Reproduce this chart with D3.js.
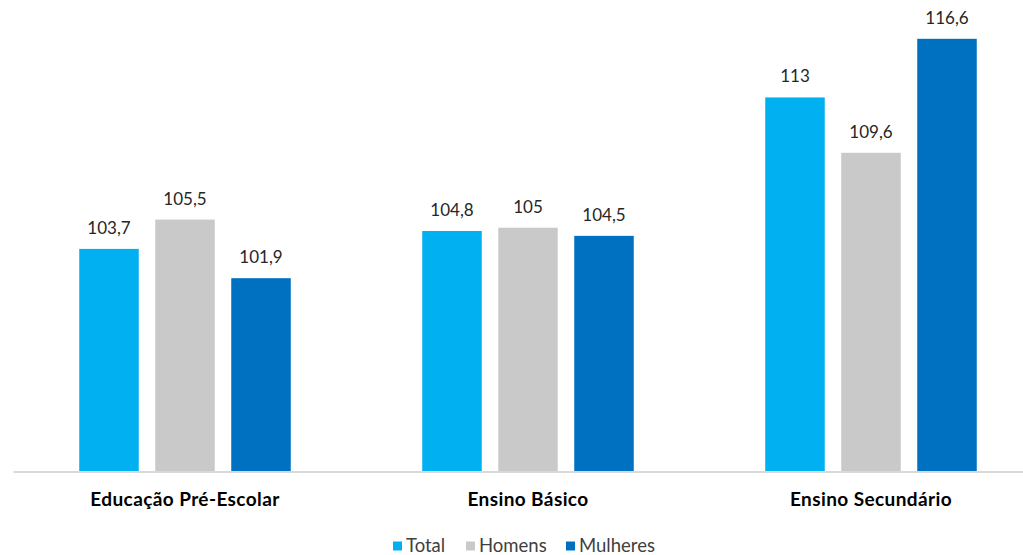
<!DOCTYPE html>
<html>
<head>
<meta charset="utf-8">
<script src="https://cdn.jsdelivr.net/npm/d3@7"></script>
<style>
  html, body { margin: 0; padding: 0; background: #fff; }
  svg { display: block; }
  text { font-family: "Century Gothic", "Lato", "Open Sans", sans-serif; }
</style>
</head>
<body>
<svg id="chart" width="1023" height="555"></svg>
<script>
// Education levels (categories) and the three series
const categories = ["Educação Pré-Escolar", "Ensino Básico", "Ensino Secundário"];
const seriesNames = ["Total", "Homens", "Mulheres"];
const totalValues = [103.7, 104.8, 113];
const homensValues = [105.5, 105, 109.6];
const mulheresValues = [101.9, 104.5, 116.6];
const seriesColors = ["#00B0F0", "#C9C9C9", "#0070C0"];

const seriesValues = [totalValues, homensValues, mulheresValues];
const rows = categories.map((c, i) => ({
  category: c,
  values: seriesNames.map((s, j) => ({ series: s, value: seriesValues[j][i] }))
}));

const svg = d3.select("#chart");
const fmt = v => String(v).replace(".", ",");

const plot = { left: 13.5, right: 1042.5, top: 16, bottom: 472 };

const x0 = d3.scaleBand()
  .domain(categories)
  .range([plot.left, plot.right])
  .paddingInner(0)
  .paddingOuter(0);

const x1 = d3.scaleBand()
  .domain(seriesNames)
  .range([0, x0.bandwidth()])
  .paddingInner(0.217)
  .paddingOuter(0.865);

const y = d3.scaleLinear()
  .domain([90, 118])
  .range([plot.bottom, plot.top]);

const color = d3.scaleOrdinal().domain(seriesNames).range(seriesColors);

const groups = svg.append("g")
  .selectAll("g")
  .data(rows)
  .join("g")
  .attr("transform", d => `translate(${x0(d.category)},0)`);

groups.selectAll("rect")
  .data(d => d.values)
  .join("rect")
  .attr("x", d => x1(d.series))
  .attr("y", d => y(d.value))
  .attr("width", x1.bandwidth())
  .attr("height", d => y(90) - y(d.value))
  .attr("fill", d => color(d.series));

groups.selectAll("text.val")
  .data(d => d.values)
  .join("text")
  .attr("class", "val")
  .attr("x", d => x1(d.series) + x1.bandwidth() / 2)
  .attr("y", d => y(d.value) - 15)
  .attr("text-anchor", "middle")
  .attr("font-size", 17)
  .attr("fill", "#262626")
  .text(d => fmt(d.value));

// Category axis along the baseline
const xAxis = svg.append("g")
  .attr("transform", `translate(0,${plot.bottom})`)
  .call(d3.axisBottom(x0).tickSize(0).tickPadding(0));
xAxis.select(".domain")
  .attr("d", `M${plot.left},0H1023`)
  .attr("stroke", "#D9D9D9")
  .attr("stroke-width", 2);
xAxis.selectAll(".tick text")
  .attr("dy", null)
  .attr("y", 34)
  .attr("font-size", 19)
  .attr("font-weight", "bold")
  .attr("letter-spacing", 0.4)
  .attr("fill", "#000")
  .style("font-family", "'Century Gothic', 'Lato', sans-serif");

// Legend
const legendItems = [
  { name: "Total", x: 393 },
  { name: "Homens", x: 466 },
  { name: "Mulheres", x: 566 }
];
const legend = svg.append("g")
  .selectAll("g")
  .data(legendItems)
  .join("g")
  .attr("transform", d => `translate(${d.x},552)`);
legend.append("rect")
  .attr("x", 0).attr("y", -10.5)
  .attr("width", 9).attr("height", 9)
  .attr("fill", d => color(d.name));
legend.append("text")
  .attr("x", 13)
  .attr("y", 0)
  .attr("font-size", 18.5)
  .attr("fill", "#404040")
  .text(d => d.name);
</script>
</body>
</html>
